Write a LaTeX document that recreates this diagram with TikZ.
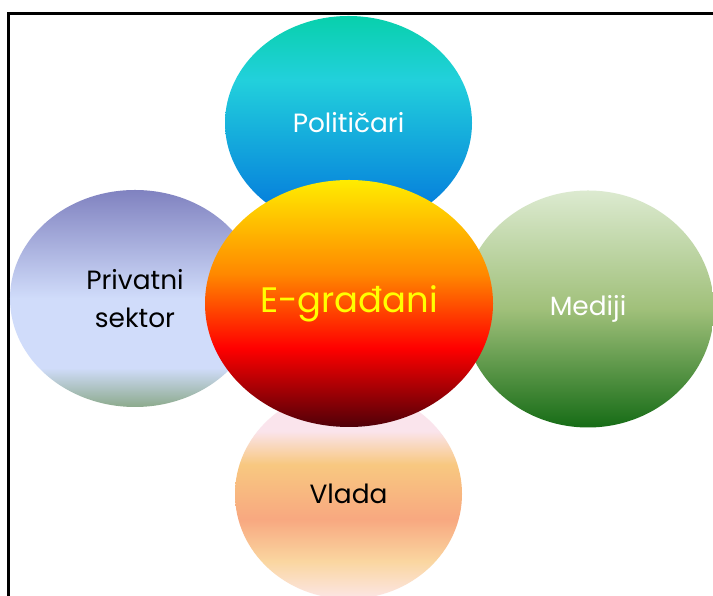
\documentclass[tikz,border=0pt]{standalone}
\usepackage{fontspec}
\setmainfont{Poppins}
\usetikzlibrary{shapes.geometric}

% Političari (top)
\definecolor{tA}{RGB}{8,208,172}
\definecolor{tB}{RGB}{34,208,220}
\definecolor{tC}{RGB}{0,112,220}
% Privatni sektor (left)
\definecolor{lA}{RGB}{128,130,192}
\definecolor{lC}{RGB}{208,220,250}
\definecolor{lD}{RGB}{140,170,140}
% E-građani (center)
\definecolor{cA}{RGB}{255,236,0}
\definecolor{cB}{RGB}{255,136,0}
\definecolor{cC}{RGB}{255,0,0}
\definecolor{cD}{RGB}{80,0,8}
\definecolor{cText}{RGB}{255,255,0}
% Mediji (right)
\definecolor{rA}{RGB}{220,234,208}
\definecolor{rB}{RGB}{160,192,122}
\definecolor{rC}{RGB}{22,108,22}
% Vlada (bottom)
\definecolor{bA}{RGB}{250,228,236}
\definecolor{bB}{RGB}{248,200,128}
\definecolor{bC}{RGB}{248,168,128}
\definecolor{bD}{RGB}{250,214,160}
\definecolor{bE}{RGB}{252,230,230}

\pgfdeclareverticalshading{polsh}{100bp}{color(0bp)=(tC); color(25bp)=(tC); color(60bp)=(tB); color(75bp)=(tA); color(100bp)=(tA)}
\pgfdeclareverticalshading{privsh}{100bp}{color(0bp)=(lD); color(25bp)=(lD); color(34bp)=(lC); color(50bp)=(lC); color(75bp)=(lA); color(100bp)=(lA)}
\pgfdeclareverticalshading{censh}{100bp}{color(0bp)=(cD); color(25bp)=(cD); color(41bp)=(cC); color(56bp)=(cB); color(75bp)=(cA); color(100bp)=(cA)}
\pgfdeclareverticalshading{medsh}{100bp}{color(0bp)=(rC); color(25bp)=(rC); color(50bp)=(rB); color(75bp)=(rA); color(100bp)=(rA)}
\pgfdeclareverticalshading{vlash}{100bp}{color(0bp)=(bE); color(25bp)=(bE); color(34bp)=(bD); color(44bp)=(bC); color(57bp)=(bB); color(65bp)=(bA); color(75bp)=(bA); color(100bp)=(bA)}

\tikzset{
  bubble/.style={ellipse, inner sep=0pt, shade, align=center,
    font=\fontsize{26.5}{38}\selectfont},
  frameline/.style={line width=3bp, black}
}

\begin{document}
\begin{tikzpicture}[x=1bp, y=1bp]
\useasboundingbox (0,0) rectangle (713,596);
\fill[white] (0,0) rectangle (713,596);
\draw[frameline] (8,-5) -- (8,582) -- (720,582);

\node[bubble, shading=polsh, minimum width=247bp, minimum height=214bp, text=white] (pol) at (348.5,473) {Političari};
\node[bubble, shading=privsh, minimum width=250bp, minimum height=217bp, text=black] (priv) at (135,297.5) {Privatni\\sektor};
\node[bubble, shading=medsh, minimum width=252bp, minimum height=237bp, text=white] (med) at (588,287) {Mediji};
\node[bubble, shading=vlash, minimum width=227bp, minimum height=210bp, text=black] (vla) at (348.5,102) {Vlada};
\node[bubble, shading=censh, minimum width=288bp, minimum height=247bp, text=cText, font=\fontsize{35.5}{42}\selectfont] (cen) at (349,292.5) {E-građani};
\end{tikzpicture}
\end{document}
